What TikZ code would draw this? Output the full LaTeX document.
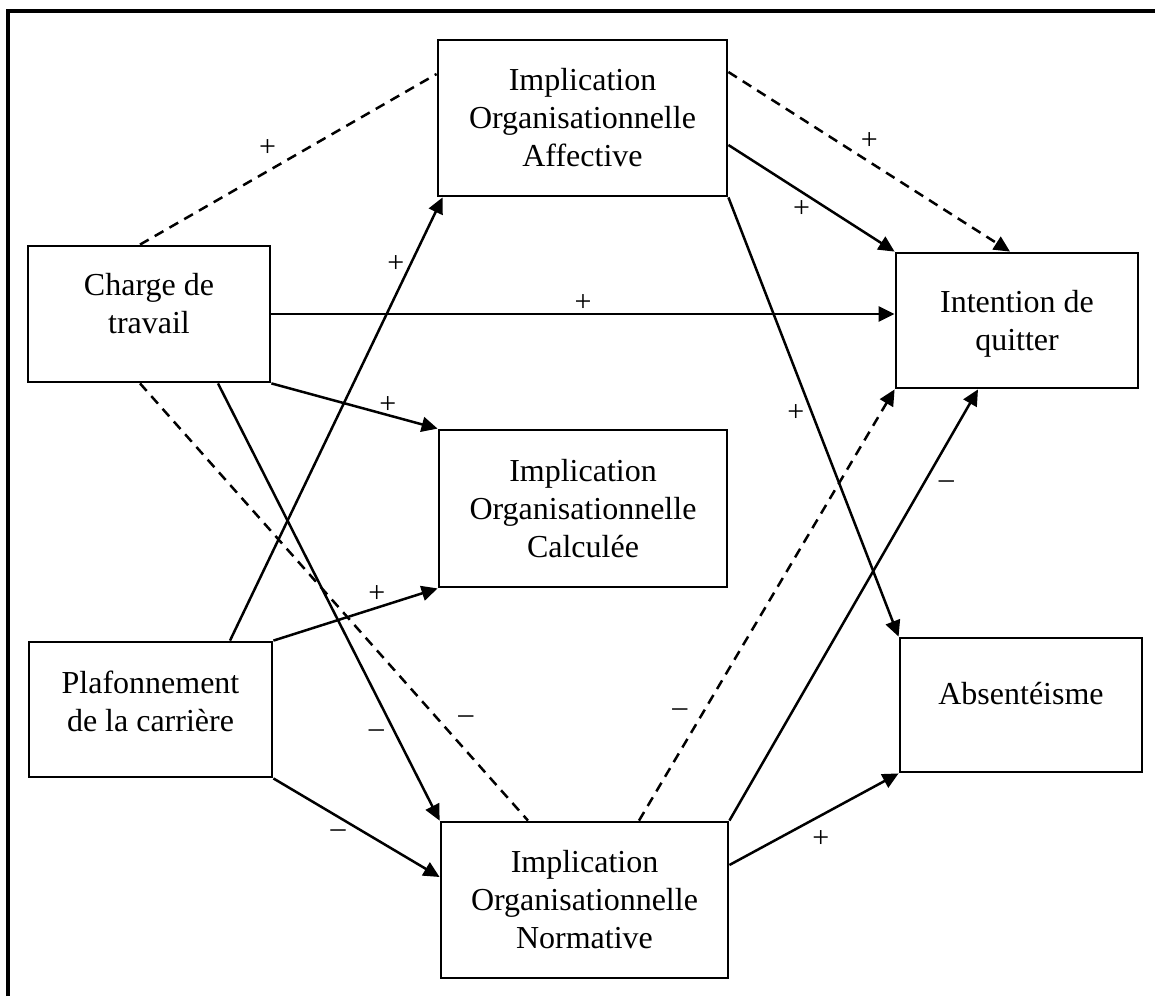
\documentclass[tikz,border=0pt]{standalone}
\usepackage{fontspec}
\setmainfont{Liberation Serif}
\usetikzlibrary{arrows.meta}
% raise the text inside a box without changing the box size
\newcommand\remonte[2]{\raisebox{#1}[\height][\depth]{\begin{tabular}{@{}c@{}}#2\end{tabular}}}

\begin{document}
\begin{tikzpicture}[x=1pt,y=-1pt,->,>={Triangle[length=16pt,width=15pt]},
    line width=2.5pt,
    box/.style={draw,rectangle,line width=2.8pt,align=center,inner sep=0pt,
      font=\fontsize{32}{38}\selectfont},
    sgn/.style={font=\fontsize{30}{30}\selectfont,inner sep=0pt},
    moins/.style={font=\fontsize{30}{30}\selectfont,inner sep=0pt},
    pointille/.style={dash pattern=on 10pt off 7pt}]
  \useasboundingbox (0,0) rectangle (1155,996);
  \draw[-,line width=4pt] (8,996) -- (8,11) -- (1155,11);
  % variables
  \node[box,minimum width=242pt,minimum height=136pt] (charge) at (149,314) {\remonte{7pt}{Charge de\\travail}};
  \node[box,minimum width=243pt,minimum height=135pt] (plaf) at (150.5,709.5) {\remonte{5pt}{Plafonnement\\de la carrière}};
  \node[box,minimum width=289pt,minimum height=156pt] (ioa) at (582.5,118) {Implication\\Organisationnelle\\Affective};
  \node[box,minimum width=288pt,minimum height=157pt] (ioc) at (583,508.5) {Implication\\Organisationnelle\\Calculée};
  \node[box,minimum width=287pt,minimum height=156pt] (ion) at (584.5,900) {Implication\\Organisationnelle\\Normative};
  \node[box,minimum width=242pt,minimum height=135pt] (quit) at (1017,320.5) {\remonte{-3pt}{Intention de\\quitter}};
  \node[box,minimum width=242pt,minimum height=134pt] (abs) at (1021,705) {\remonte{8pt}{Absentéisme}};
  % liens
  \path
    ([xshift=-9pt]charge.north) edge[pointille,-] node[sgn,pos=.43,yshift=23pt] {+} ([yshift=44pt]ioa.west)
    ([yshift=46pt]ioa.east) edge[pointille] node[sgn,pos=.5,yshift=21pt] {+} ([xshift=-7pt]quit.north)
    ([yshift=-27pt]ioa.east) edge node[sgn,pos=.44,yshift=-17pt] {+} (quit.north west)
    (ioa.south east) edge node[sgn,pos=.49,xshift=-16pt] {+} (abs.north west)
    (charge.east) edge node[sgn,pos=.5,yshift=11pt] {+} (charge.east -| quit.west)
    (charge.south east) edge node[sgn,pos=.7,yshift=10pt] {+} (ioc.north west)
    ([xshift=79.5pt]plaf.north) edge node[sgn,pos=.85,xshift=-15pt] {+} ([xshift=6pt]ioa.south west)
    (plaf.north east) edge node[sgn,pos=.63,yshift=14pt] {+} (ioc.south west)
    ([xshift=69pt]charge.south) edge node[moins,pos=.8,xshift=-19pt] {–} (ion.north west)
    ([xshift=-9pt]charge.south) edge[pointille,-] node[moins,pos=.77,xshift=27pt] {–} ([xshift=-56.5pt]ion.north)
    (plaf.south east) edge node[moins,pos=.39,yshift=-17pt] {–} ([yshift=23pt]ion.west)
    ([xshift=54.5pt]ion.north) edge[pointille] node[moins,pos=.25,xshift=-23pt] {–} (quit.south west)
    (ion.north east) edge node[moins,pos=.78,xshift=23pt] {–} ([xshift=-39pt]quit.south)
    ([yshift=35pt]ion.east) edge node[sgn,pos=.54,yshift=-23pt] {+} (abs.south west);
\end{tikzpicture}
\end{document}
